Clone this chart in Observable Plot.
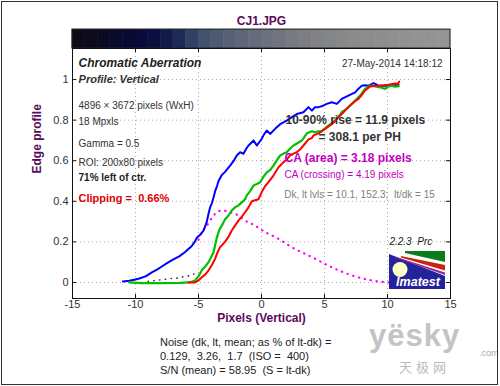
<!DOCTYPE html>
<html>
<head>
<meta charset="utf-8">
<script src="https://cdn.jsdelivr.net/npm/d3@7"></script>
<script src="https://cdn.jsdelivr.net/npm/@observablehq/plot@0.6"></script>
<style>
  html, body { margin: 0; padding: 0; background: #fff; }
  #wrap { position: relative; width: 500px; height: 386px; overflow: hidden; font-family: "Liberation Sans", Arial, Helvetica, sans-serif; }
  #border { position: absolute; left: 1px; top: 1px; width: 495px; height: 382px; border: 1px solid #333; pointer-events: none; }
  #chart { position: absolute; left: 0; top: 0; }
  .note { position: absolute; left: 160px; top: 335px; font-size: 11px; line-height: 14px; color: #222; white-space: pre; }
  .wm { position: absolute; color: #c4c4c4; white-space: pre; }
</style>
</head>
<body>
<div id="wrap">
  <div id="chart"></div>
  <div class="note" id="note"></div>
  <div class="wm" id="wm1" style="left:369px;top:321px;font-size:31px;line-height:30px;font-weight:bold;letter-spacing:1px;"></div>
  <div class="wm" id="wm2" style="left:479px;top:349px;font-size:9px;line-height:9px;color:#aaa;"></div>
  <div class="wm" id="wm3" style="left:399px;top:360px;font-size:13px;line-height:13px;color:#bbb;font-family:'Noto Sans CJK SC',sans-serif;letter-spacing:4px;"></div>
  <svg id="logo" width="56" height="38" style="position:absolute;left:389px;top:251px">
    <rect width="56" height="38" fill="#23239b"/>
    <polygon points="0,0 56,0 56,25 0,3" fill="#fff"/>
    <polygon points="16,0 56,0 56,11 16,2" fill="#0a7d1a"/>
    <polygon points="12,5 56,14 56,19.5 12,6.5" fill="#d02010"/>
    <polygon points="6,5.5 56,21.5 56,24 6,6.5" fill="#9a2a9a"/>
    <circle cx="11" cy="18.5" r="7.5" fill="#ffffc8"/>
    <text x="29" y="35" text-anchor="middle" fill="#fff" font-weight="bold" font-style="italic" font-size="12.5" font-family="Liberation Sans, Arial, sans-serif">Imatest</text>
  </svg>
  <div id="border"></div>
</div>
<script>
// ---- data ----
const titleText = "CJ1.JPG";
const xLabel = "Pixels (Vertical)";
const yLabel = "Edge profile";
const xTicks = [-15, -10, -5, 0, 5, 10, 15];
const xTickLabels = ["-15", "-10", "-5", "0", "5", "10", "15"];
const yTicks = [0, 0.2, 0.4, 0.6, 0.8, 1];
const yTickLabels = ["0", "0.2", "0.4", "0.6", "0.8", "1"];

// colour strip above the plot (edge image), one cell per pixel unit from -15 to 15
const stripColors = ["#0c0a16","#0c0a1c","#0b0a24","#0a0a2c","#090a34","#080a3a","#0a0e40","#121a4a","#1e2a56","#324064",
  "#445270","#4e5a74","#566078","#5e667a","#666c7c","#6c717e","#727580","#787a82","#7c7e84","#808285",
  "#848587","#87888a","#8a8b8b","#8c8c8c","#8e8e8e","#909090","#919191","#929292","#939393","#949494"];

const blueX = [-11.0,-10.5,-10.2,-9.76,-9.2,-8.7,-8.3,-8.0,-7.5,-7.1,-6.8,-6.5,-6.06,-5.8,-5.53,-5.3,-5.13,-4.87,-4.6,-4.45,-4.34,-4.2,-4.08,-3.94,-3.8,-3.68,-3.53,-3.41,-3.15,-2.89,-2.7,-2.49,-2.2,-1.96,-1.7,-1.43,-1.2,-1.03,-0.63,-0.37,0.02,0.2,0.42,0.68,1.08,1.48,2.0,2.3,2.54,2.8,3.33,3.73,4.0,4.25,4.52,4.85,5.18,5.58,5.98,6.37,6.9,7.43,7.7,7.96,8.22,8.49,8.9,9.29,9.7,10.08,10.5,10.87];
const blueY = [0.005,0.008,0.012,0.018,0.03,0.05,0.063,0.075,0.095,0.11,0.12,0.13,0.15,0.165,0.18,0.2,0.22,0.235,0.255,0.28,0.30,0.34,0.37,0.39,0.42,0.45,0.475,0.50,0.53,0.545,0.56,0.576,0.60,0.626,0.642,0.634,0.66,0.675,0.70,0.675,0.708,0.73,0.749,0.732,0.757,0.78,0.798,0.81,0.82,0.83,0.839,0.864,0.847,0.864,0.864,0.87,0.88,0.888,0.88,0.905,0.921,0.937,0.955,0.97,0.972,0.97,0.982,0.97,0.97,0.97,0.972,0.975];

const greenX = [-10.5,-9.5,-8,-6.5,-5.8,-5.5,-5.27,-5.0,-4.74,-4.45,-4.2,-3.95,-3.8,-3.55,-3.35,-3.15,-2.9,-2.62,-2.36,-2.1,-1.83,-1.56,-1.3,-1.17,-0.9,-0.63,-0.37,-0.1,0.15,0.42,0.7,0.95,1.2,1.48,1.75,2.0,2.27,2.54,2.94,3.2,3.33,3.6,4.0,4.25,4.52,4.78,5.05,5.3,5.58,5.84,6.1,6.37,6.63,6.9,7.17,7.43,7.83,8.22,8.62,8.9,9.29,9.55,9.8,10.05,10.3,10.6,10.9];
const greenY = [0.0,-0.003,-0.003,-0.002,0.0,0.005,0.01,0.03,0.06,0.08,0.10,0.13,0.15,0.22,0.26,0.28,0.31,0.33,0.355,0.37,0.38,0.395,0.41,0.429,0.45,0.478,0.485,0.494,0.52,0.543,0.555,0.576,0.60,0.626,0.635,0.642,0.66,0.675,0.69,0.70,0.71,0.735,0.745,0.74,0.745,0.745,0.76,0.773,0.785,0.798,0.815,0.839,0.85,0.864,0.88,0.897,0.921,0.954,0.97,0.968,0.962,0.96,0.954,0.965,0.97,0.965,0.968];

const redX = [-5.8,-5.27,-5.0,-4.74,-4.45,-4.2,-3.95,-3.68,-3.48,-3.28,-2.9,-2.62,-2.36,-2.1,-1.83,-1.56,-1.3,-1.03,-0.77,-0.5,-0.24,-0.1,0.1,0.29,0.55,0.95,1.35,1.75,2.0,2.27,2.54,2.8,3.05,3.33,3.73,4.0,4.13,4.52,4.78,5.05,5.3,5.58,5.84,6.1,6.37,6.63,6.9,7.17,7.43,7.7,7.96,8.22,8.62,8.9,9.29,9.7,10.08,10.6,10.8,10.93];
const redY = [0.0,0.0,0.01,0.026,0.04,0.06,0.085,0.117,0.15,0.174,0.2,0.225,0.256,0.28,0.305,0.325,0.346,0.37,0.40,0.405,0.41,0.429,0.455,0.475,0.494,0.527,0.568,0.593,0.605,0.626,0.635,0.642,0.655,0.675,0.705,0.712,0.725,0.735,0.745,0.757,0.768,0.78,0.797,0.814,0.83,0.847,0.864,0.88,0.893,0.905,0.925,0.946,0.966,0.968,0.97,0.972,0.975,0.98,0.978,0.99];

const caX = [-5.0,-4.74,-4.34,-3.8,-3.15,-2.49,-1.83,-1.3,-0.5,0.29,0.82,1.35,2.4,4.0,5.58,7.17,8.75,10.1];
const caY = [0.21,0.248,0.28,0.33,0.355,0.346,0.33,0.305,0.28,0.248,0.232,0.215,0.174,0.125,0.075,0.035,0.01,0.0];

const darkX = [-9.0,-8.4,-7.7,-7.1,-6.6,-6.1,-5.6,-5.27];
const darkY = [0.005,0.01,0.015,0.02,0.022,0.03,0.035,0.045];

const leftNotes = ["4896 × 3672 pixels (WxH)", "18 Mpxls", "Gamma = 0.5", "ROI: 200x80 pixels"];
const leftNoteY = [0.857, 0.774, 0.670, 0.576];
const noteLines = ["Noise (dk, lt, mean; as % of lt-dk) =", "0.129,  3.26,  1.7  (ISO =  400)", "S/N (mean) = 58.95  (S = lt-dk)"];

// ---- build ----
const pts = (xs, ys) => xs.map((x, i) => ({x, y: ys[i]}));
const blue = pts(blueX, blueY), green = pts(greenX, greenY), red = pts(redX, redY);
const ca = pts(caX, caY), dark = pts(darkX, darkY);
const strip = stripColors.map((c, i) => ({x1: -15 + i, x2: -14 + i, c}));

const yMin = -0.079, yMax = 1.153, yStripTop = 1.246;
const font = "Liberation Sans, Arial, Helvetica, sans-serif";
const purple = "#5a0a5a";
const txt = (s, x, y, o) => Plot.text([s], {x: () => x, y: () => y, text: d => d, lineAnchor: "bottom", textAnchor: "start", fontSize: 10, fill: "#333", ...o});

const chart = Plot.plot({
  width: 500, height: 386,
  marginLeft: 72, marginRight: 50, marginTop: 48, marginBottom: 88,
  x: {domain: [-15, 15], axis: null},
  y: {domain: [yMin, yMax], axis: null},
  style: {fontFamily: font, background: "transparent", overflow: "visible"},
  marks: [
    Plot.rect(strip, {x1: "x1", x2: "x2", y1: yMax, y2: yStripTop, fill: "c", stroke: "c", strokeWidth: 0.6}),
    Plot.rect([0], {x1: -15, x2: 15, y1: yMax, y2: yStripTop, fill: "none", stroke: "#222"}),
    Plot.gridX(xTicks.slice(1, -1), {stroke: "#aaa", strokeOpacity: 1, strokeDasharray: "1,3"}),
    Plot.gridY(yTicks, {stroke: "#aaa", strokeOpacity: 1, strokeDasharray: "1,3"}),
    Plot.line(dark, {x: "x", y: "y", stroke: "#333", strokeWidth: 1.6, strokeLinecap: "round", strokeDasharray: "0.3,5.5", curve: "monotone-x"}),
    Plot.line(ca, {x: "x", y: "y", stroke: "#ff00ff", strokeWidth: 2.2, strokeLinecap: "round", strokeDasharray: "0.4,5.6", curve: "monotone-x"}),
    Plot.line(blue, {x: "x", y: "y", stroke: "#0000ff", strokeWidth: 2}),
    Plot.line(green, {x: "x", y: "y", stroke: "#00c000", strokeWidth: 2.2}),
    Plot.line(red, {x: "x", y: "y", stroke: "#ff0000", strokeWidth: 2}),
    Plot.frame({stroke: "#111"}),
    // inward ticks
    Plot.ruleX(xTicks, {y1: yMin, y2: yMin + 0.02, stroke: "#111"}),
    Plot.ruleX(xTicks, {y1: yMax - 0.02, y2: yMax, stroke: "#111"}),
    Plot.ruleY(yTicks, {x1: -15, x2: -14.68, stroke: "#111"}),
    Plot.ruleY(yTicks, {x1: 14.68, x2: 15, stroke: "#111"}),
    Plot.axisX(xTicks, {anchor: "bottom", tickSize: 0, tickPadding: 2, fontSize: 11, color: "#333", label: null, tickFormat: d => xTickLabels[xTicks.indexOf(d)]}),
    Plot.axisY(yTicks, {anchor: "left", tickSize: 0, tickPadding: 4, fontSize: 11, color: "#333", label: null, tickFormat: d => yTickLabels[yTicks.indexOf(d)]}),
    Plot.text([titleText], {frameAnchor: "top", dy: -32, text: d => d, fontSize: 12, fontWeight: "bold", fill: purple}),
    Plot.text([xLabel], {frameAnchor: "bottom", dy: 23, text: d => d, fontSize: 12, fontWeight: "bold", fill: purple}),
    Plot.text([yLabel], {frameAnchor: "left", dx: -35, rotate: -90, text: d => d, fontSize: 12, fontWeight: "bold", fill: purple}),
    // annotations
    txt("Chromatic Aberration", -14.52, 1.064, {fontSize: 12, fontWeight: "bold", fontStyle: "italic", fill: "#222"}),
    txt("Profile: Vertical", -14.52, 0.981, {fontSize: 11, fontWeight: "bold", fontStyle: "italic", fill: "#333"}),
    Plot.text(leftNotes, {x: () => -14.52, y: (d, i) => leftNoteY[i], text: d => d, lineAnchor: "bottom", textAnchor: "start", fontSize: 10, fill: "#333"}),
    txt("71% left of ctr.", -14.52, 0.498, {fontSize: 10, fontWeight: "bold", fill: "#222"}),
    txt("Clipping =  0.66%", -14.52, 0.399, {fontSize: 11, fontWeight: "bold", fill: "#dd0000"}),
    txt("27-May-2014 14:18:12", 14.37, 1.064, {textAnchor: "end", fontSize: 10, fill: "#333"}),
    txt("10-90% rise = 11.9 pixels", 1.905, 0.782, {fontSize: 12, fontWeight: "bold", fill: "#333"}),
    txt("= 308.1 per PH", 4.52, 0.696, {fontSize: 12, fontWeight: "bold", fill: "#333"}),
    txt("CA (area) = 3.18 pixels", 1.825, 0.596, {fontSize: 12, fontWeight: "bold", fill: "#c000c0"}),
    txt("CA (crossing) = 4.19 pixels", 1.825, 0.516, {fontSize: 10, fill: "#c000c0"}),
    txt("Dk, lt lvls = 10.1, 152.3;  lt/dk = 15", 1.8, 0.417, {fontSize: 10, fill: "#808080"}),
    txt("2.2.3  Prc", 13.55, 0.187, {textAnchor: "end", fontSize: 10, fontStyle: "italic", fill: "#222"})
  ]
});
document.getElementById("chart").appendChild(chart);
document.getElementById("note").textContent = noteLines.join("\n");
document.getElementById("wm1").textContent = "yësky";
document.getElementById("wm2").textContent = ".com";
document.getElementById("wm3").textContent = "天极网";
</script>
</body>
</html>
